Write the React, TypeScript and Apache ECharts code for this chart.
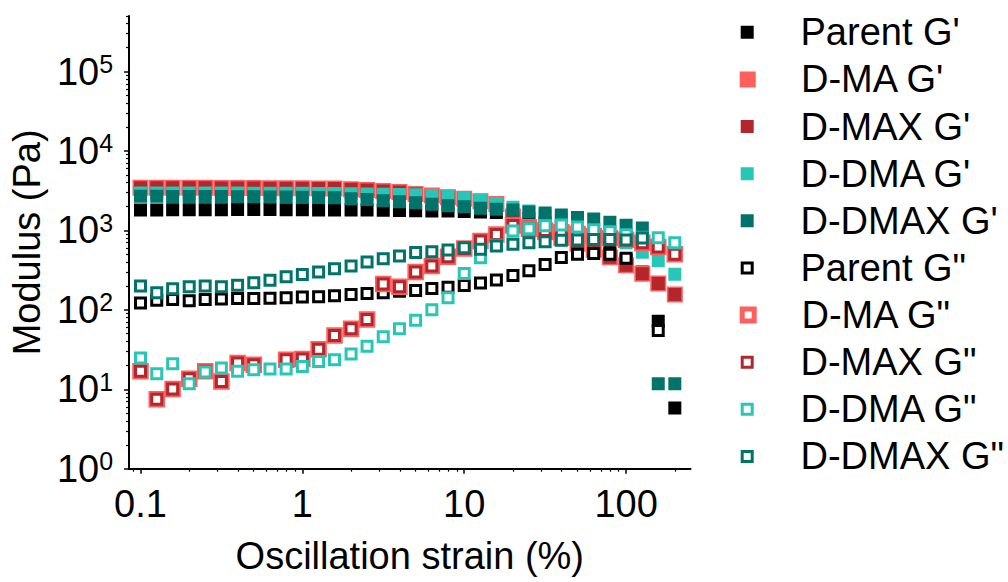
import React, { useEffect, useRef } from "react";
import * as echarts from "echarts";

const FONT = "'Liberation Sans', Arial, Helvetica, sans-serif";

// Oscillation strain (%)
const strain = [
  0.1, 0.126, 0.158, 0.2, 0.251, 0.316, 0.398, 0.501, 0.631, 0.794,
  1, 1.26, 1.58, 2, 2.51, 3.16, 3.98, 5.01, 6.31, 7.94,
  10, 12.6, 15.8, 20, 25.1, 31.6, 39.8, 50.1, 63.1, 79.4,
  100, 126, 158, 200,
];

// Storage modulus G' (Pa)
const parentGp = [
  1800, 1800, 1820, 1820, 1820, 1820, 1830, 1830, 1830, 1820,
  1820, 1810, 1800, 1800, 1800, 1790, 1780, 1770, 1760, 1750,
  1730, 1700, 1680, 1550, 1400, 1250, 1100, 950, 820, 700,
  420, 300, 72, 5.8,
];
const dmaGp = [
  3450, 3450, 3450, 3440, 3430, 3420, 3420, 3410, 3400, 3400,
  3390, 3380, 3370, 3300, 3230, 3130, 3050, 2870, 2750, 2620,
  2500, 2330, 2150, 1500, 1100, 950, 800, 680, 570, 460,
  365, 285, 215, 156,
];
const dmaxGp = [
  3450, 3450, 3450, 3440, 3430, 3420, 3420, 3410, 3400, 3400,
  3390, 3380, 3370, 3300, 3230, 3130, 3050, 2870, 2750, 2620,
  2500, 2250, 1900, 1380, 1100, 950, 800, 680, 560, 460,
  365, 285, 215, 156,
];
const ddmaGp = [
  2960, 2960, 2960, 2960, 2950, 2950, 2950, 2940, 2940, 2930,
  2930, 2920, 2920, 2900, 2880, 2860, 2830, 2800, 2750, 2700,
  2570, 2400, 2180, 1950, 1750, 1550, 1380, 1200, 1050, 890,
  700, 530, 415, 280,
];
const ddmaxGp = [
  2690, 2690, 2680, 2680, 2670, 2670, 2660, 2650, 2640, 2630,
  2620, 2600, 2570, 2500, 2440, 2370, 2300, 2230, 2140, 2050,
  1990, 1900, 1850, 1800, 1700, 1650, 1560, 1450, 1390, 1270,
  1160, 1070, 11.7, 11.7,
];

// Loss modulus G'' (Pa)
const parentGpp = [
  122, 132, 135, 130, 135, 137, 139, 139, 140, 142,
  145, 146, 150, 156, 161, 164, 171, 175, 185, 193,
  202, 218, 238, 270, 310, 373, 455, 500, 510, 500,
  445, null, 55, null,
];
const dmaGpp = [
  16.8, 7.5, 10.1, 13.6, 16.8, 12.5, 21.4, 20.4, null, 23.6,
  24, 32, 47.4, 57.6, 75.5, 212, 195, 299, 355, 467,
  590, 735, 890, 1150, 1050, 1000, 950, 900, 850, 800,
  760, 700, 620, 500,
];
const dmaxGpp = [
  16.8, 7.5, 10.1, 13.6, 16.8, 12.5, 21.4, 20.4, null, 23.6,
  24, 32, 47.4, 57.6, 75.5, 212, 195, 299, 355, 467,
  590, 735, 890, 1150, 1050, 1000, 950, 900, 850, 800,
  760, 700, 620, 500,
];
const ddmaGpp = [
  24.8, 15.7, 21, 11.7, 16.5, 18.5, 16.8, 17.6, 18, 18,
  19.4, 22.4, 23.6, 27.8, 34.8, 45.7, 57.6, 74, 100, 142,
  287, 453, 650, 980, 1050, 1140, 1170, 1100, 1020, 960,
  880, 820, 810, 700,
];
const ddmaxGpp = [
  199, 164, 184, 195, 199, 195, 204, 219, 235, 261,
  279, 299, 329, 355, 400, 440, 475, 525, 540, 566,
  605, 580, 635, 667, 700, 720, 750, 755, 770, 770,
  755, 800, null, null,
];

const seriesNames = [
  "Parent G'", "D-MA G'", "D-MAX G'", "D-DMA G'", "D-DMAX G'",
  "Parent G\"", "D-MA G\"", "D-MAX G\"", "D-DMA G\"", "D-DMAX G\"",
];
const seriesValues = [
  parentGp, dmaGp, dmaxGp, ddmaGp, ddmaxGp,
  parentGpp, dmaGpp, dmaxGpp, ddmaGpp, ddmaxGpp,
];
const sampleColors = ["#000000", "#ff5f5f", "#b3262b", "#27c6b7", "#00736b"];

const xMajorTicks = [0.1, 1, 10, 100];
const xMinorTicks = [
  0.09, 0.2, 0.3, 0.4, 0.5, 0.6, 0.7, 0.8, 0.9,
  2, 3, 4, 5, 6, 7, 8, 9,
  20, 30, 40, 50, 60, 70, 80, 90, 200,
];
const yMajorTicks = [1, 10, 100, 1000, 10000, 100000];
const yMinorTicks = [
  2, 3, 4, 5, 6, 7, 8, 9,
  20, 30, 40, 50, 60, 70, 80, 90,
  200, 300, 400, 500, 600, 700, 800, 900,
  2000, 3000, 4000, 5000, 6000, 7000, 8000, 9000,
  20000, 30000, 40000, 50000, 60000, 70000, 80000, 90000,
  200000, 300000, 400000, 500000,
];

const X_MIN = 0.085;
const X_MAX = 250;
const Y_MIN = 1;
const Y_MAX = 500000;

function styleFor(i: number) {
  const color = sampleColors[i % 5];
  const hollow = i >= 5;
  const big = i % 5 === 1; // D-MA drawn larger underneath D-MAX
  if (!hollow) {
    return {
      symbolSize: big ? 10 : 7,
      itemStyle: { color, borderColor: color, borderWidth: 6, opacity: 1 },
    };
  }
  return {
    symbolSize: big ? 11.5 : 10,
    itemStyle: { color: "#ffffff", borderColor: color, borderWidth: big ? 5 : 3, opacity: 1 },
  };
}

function legendItemStyle(i: number) {
  const color = sampleColors[i % 5];
  const hollow = i >= 5;
  const big = i % 5 === 1;
  if (!hollow) return { color, borderColor: color, borderWidth: big ? 4 : 3, opacity: 1 };
  return { color: "#ffffff", borderColor: color, borderWidth: big ? 5 : 3, opacity: 1 };
}

const LEGEND_ROW0 = 32.3;
const LEGEND_STEP = 47.13;
const LEGEND_ICON_X = 745.7;
const LEGEND_TEXT_X = 799;
const ROW_H = 38;

function makeLegend(indices: number[], big: boolean) {
  const iw = big ? 12 : 10;
  const left = LEGEND_ICON_X - iw / 2;
  const top = LEGEND_ROW0 + LEGEND_STEP * indices[0] - ROW_H / 2;
  return {
    orient: "vertical",
    left,
    top,
    padding: 0,
    itemGap: LEGEND_STEP - ROW_H,
    itemWidth: iw,
    itemHeight: iw,
    selectedMode: false,
    data: indices.map((i) => ({
      name: seriesNames[i],
      icon: "rect",
      itemStyle: legendItemStyle(i),
    })),
    textStyle: {
      fontFamily: FONT,
      fontSize: 38,
      color: "#000",
      lineHeight: ROW_H,
      height: ROW_H,
      padding: [0, 0, 0, LEGEND_TEXT_X - left - iw - 5],
    },
  };
}

export default function App() {
  const ref = useRef<HTMLDivElement>(null);
  useEffect(() => {
    document.body.style.margin = "0";
    const chart = echarts.init(ref.current!, null, { renderer: "svg" });
    const series = seriesValues.map((vals, i) => ({
      name: seriesNames[i],
      type: "scatter",
      symbol: "rect",
      xAxisIndex: 0,
      yAxisIndex: 0,
      ...styleFor(i),
      data: strain
        .map((x, k) => (vals[k] == null ? null : [x, vals[k]]))
        .filter((d) => d !== null),
    }));
    const axisLineStyle = { color: "#000", width: 2 };
    chart.setOption({
      animation: false,
      grid: { left: 128.5, right: 317.5, top: 16, bottom: 113.3, containLabel: false },
      legend: [
        makeLegend([0], false),
        makeLegend([1], true),
        makeLegend([2, 3, 4, 5], false),
        makeLegend([6], true),
        makeLegend([7, 8, 9], false),
      ],
      xAxis: [
        {
          type: "log",
          logBase: 10,
          min: X_MIN,
          max: X_MAX,
          name: "Oscillation strain (%)",
          nameLocation: "middle",
          nameGap: 68,
          nameTextStyle: { fontFamily: FONT, fontSize: 38, color: "#000" },
          axisLine: { show: true, onZero: false, lineStyle: axisLineStyle },
          axisTick: { show: true, customValues: xMajorTicks, length: 5, lineStyle: { color: "#000", width: 1.5 } },
          axisLabel: {
            customValues: xMajorTicks,
            margin: 16,
            fontFamily: FONT,
            fontSize: 38,
            color: "#000",
            formatter: (v: number) => String(v),
          },
          splitLine: { show: false },
          minorTick: { show: false },
        },
        {
          type: "log",
          logBase: 10,
          min: X_MIN,
          max: X_MAX,
          position: "bottom",
          axisLine: { show: false, onZero: false },
          axisTick: { show: true, customValues: xMinorTicks, length: 3, lineStyle: { color: "#000", width: 1.2 } },
          axisLabel: { show: false },
          splitLine: { show: false },
        },
      ],
      yAxis: [
        {
          type: "log",
          logBase: 10,
          min: Y_MIN,
          max: Y_MAX,
          name: "Modulus (Pa)",
          nameLocation: "middle",
          nameGap: 75,
          nameTextStyle: { fontFamily: FONT, fontSize: 38, color: "#000" },
          axisLine: { show: true, onZero: false, lineStyle: axisLineStyle },
          axisTick: { show: true, customValues: yMajorTicks, length: 5, lineStyle: { color: "#000", width: 1.5 } },
          axisLabel: {
            customValues: yMajorTicks,
            margin: 16,
            formatter: (v: number) => `{b|10}{s|${Math.round(Math.log10(v))}}`,
            rich: {
              b: { fontFamily: FONT, fontSize: 38, color: "#000", lineHeight: 40 },
              s: { fontFamily: FONT, fontSize: 25, color: "#000", verticalAlign: "top", lineHeight: 30 },
            },
          },
          splitLine: { show: false },
        },
        {
          type: "log",
          logBase: 10,
          min: Y_MIN,
          max: Y_MAX,
          position: "left",
          axisLine: { show: false, onZero: false },
          axisTick: { show: true, customValues: yMinorTicks, length: 3, lineStyle: { color: "#000", width: 1.2 } },
          axisLabel: { show: false },
          splitLine: { show: false },
        },
      ],
      series,
    });
    return () => chart.dispose();
  }, []);
  return <div ref={ref} style={{ width: 1008, height: 582 }} />;
}
